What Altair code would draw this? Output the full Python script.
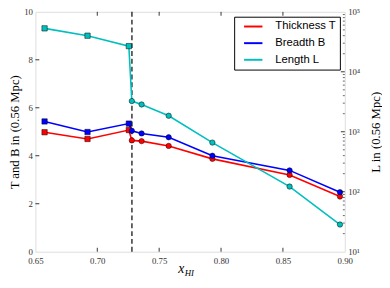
import altair as alt
import pandas as pd

# ---- data ----
x_hi = [0.6574, 0.6921, 0.7255, 0.7279, 0.7358, 0.7577, 0.7930, 0.8554, 0.8961]
thickness = [4.98, 4.70, 5.07, 4.64, 4.61, 4.41, 3.87, 3.20, 2.30]
breadth = [5.43, 4.99, 5.34, 5.04, 4.93, 4.77, 4.00, 3.39, 2.48]
length = [53000, 40000, 26800, 3250, 2850, 1850, 660, 122, 28.4]
phase = ["pre", "pre", "pre", "post", "post", "post", "post", "post", "post"]
series_names = ["Thickness T", "Breadth B", "Length L"]
series_colors = ["#ff0000", "#0000ff", "#00bfbf"]
x_ticks = [0.65, 0.70, 0.75, 0.80, 0.85, 0.90]
y_left_ticks = [0, 2, 4, 6, 8, 10]
y_right_major = [10, 100, 1000, 10000, 100000]
y_right_minor = [m * 10 ** k for k in range(1, 5) for m in range(2, 10)]
x_transition = [0.728]

W, H = 316, 245
SERIF = "Liberation Serif"

tb = pd.DataFrame({
    "x": x_hi * 2,
    "v": thickness + breadth,
    "series": [series_names[0]] * len(x_hi) + [series_names[1]] * len(x_hi),
    "phase": phase * 2,
})
ld = pd.DataFrame({"x": x_hi, "v": length, "series": series_names[2], "phase": phase})

color_scale = alt.Scale(domain=series_names, range=series_colors)
shape_scale = alt.Scale(domain=["pre", "post"], range=["square", "circle"])

x_enc = alt.X(
    "x:Q",
    scale=alt.Scale(domain=[0.65, 0.90], nice=False, zero=False),
    axis=alt.Axis(values=x_ticks, format=".2f", title=None, ticks=False, domain=False,
                  grid=False, labelPadding=5.5, labelFont=SERIF, labelFontSize=9,
                  labelColor="#333333", labelFlush=False, labelOverlap=False),
)
y_left = alt.Y(
    "v:Q",
    scale=alt.Scale(domain=[0, 10], nice=False, zero=False),
    axis=alt.Axis(values=y_left_ticks, format="d", orient="left", ticks=False, domain=False,
                  grid=False, labelPadding=3, labelFont=SERIF, labelFontSize=9,
                  labelColor="#333333", labelFlush=False, labelOverlap=False,
                  title="T and B in (0.56 Mpc)", titleFont=SERIF, titleFontSize=13,
                  titleFontWeight="normal", titleColor="black",
                  titleX=-21, titleY=H / 2, titleAngle=270, titleAlign="center",
                  titleBaseline="middle"),
)
y_right = alt.Y(
    "v:Q",
    scale=alt.Scale(type="log", domain=[10, 100000], nice=False),
    axis=alt.Axis(values=y_right_major, orient="right", ticks=False, domain=False,
                  grid=False, labelPadding=3, labelFont=SERIF, labelFontSize=9,
                  labelColor="#333333", labelFlush=False, labelOverlap=False,
                  labelExpr="'10' + ['⁰','¹','²','³','⁴','⁵'][round(log(datum.value)/LN10)]",
                  title="L in (0.56 Mpc)", titleFont=SERIF, titleFontSize=13,
                  titleFontWeight="normal", titleColor="black",
                  titleX=31, titleY=H / 2, titleAngle=270, titleAlign="center",
                  titleBaseline="middle"),
)

legend = alt.Legend(title=None, orient="top-right", offset=5, symbolType="M-2,0L2,0",
                    symbolSize=88, symbolStrokeWidth=2, labelFont="Liberation Sans",
                    labelFontSize=11.5, labelColor="black", strokeColor="black",
                    fillColor="white", padding=4, rowPadding=5, cornerRadius=0,
                    symbolOffset=9.5, labelOffset=16.5)

one = alt.Data(values=[{"a": 1}])

# ---- left (T, B) layer ----
tb_line = alt.Chart(tb).mark_line(strokeWidth=1.6).encode(
    x=x_enc, y=y_left, color=alt.Color("series:N", scale=color_scale, legend=legend))
tb_pts = alt.Chart(tb).mark_point(filled=True, size=30, stroke="black", strokeWidth=0.5,
                                  opacity=1).encode(
    x=x_enc, y=y_left,
    fill=alt.Fill("series:N", scale=color_scale, legend=None),
    shape=alt.Shape("phase:N", scale=shape_scale, legend=None))
dash = alt.Chart(pd.DataFrame({"x": x_transition})).mark_rule(
    color="black", strokeWidth=1.2, strokeDash=[5, 3]).encode(x=x_enc)
xt = pd.DataFrame({"x": x_ticks[1:-1]})
tick_bottom = alt.Chart(xt).mark_rule(color="black", strokeWidth=0.8).encode(
    x=x_enc, y=alt.value(H), y2=alt.value(H - 4))
tick_top = alt.Chart(xt).mark_rule(color="black", strokeWidth=0.8).encode(
    x=x_enc, y=alt.value(0), y2=alt.value(4))
tick_left = alt.Chart(pd.DataFrame({"v": y_left_ticks[1:-1]})).mark_rule(
    color="black", strokeWidth=0.8).encode(y=y_left, x=alt.value(0), x2=alt.value(4))
xlab = alt.Chart(one).mark_text(text="x", font=SERIF, fontStyle="italic", fontSize=14,
                                align="center", baseline="alphabetic").encode(
    x=alt.value(149), y=alt.value(267))
xlab_sub = alt.Chart(one).mark_text(text="HI", font=SERIF, fontStyle="italic", fontSize=9,
                                    align="left", baseline="alphabetic").encode(
    x=alt.value(152.5), y=alt.value(269.5))

left = alt.layer(tick_bottom, tick_top, tick_left, dash, tb_line, tb_pts, xlab, xlab_sub)

# ---- right (L) layer ----
l_line = alt.Chart(ld).mark_line(strokeWidth=1.6).encode(
    x=x_enc, y=y_right, color=alt.Color("series:N", scale=color_scale, legend=legend))
l_pts = alt.Chart(ld).mark_point(filled=True, size=30, stroke="black", strokeWidth=0.5,
                                 opacity=1).encode(
    x=x_enc, y=y_right,
    fill=alt.Fill("series:N", scale=color_scale, legend=None),
    shape=alt.Shape("phase:N", scale=shape_scale, legend=None))
tick_rmaj = alt.Chart(pd.DataFrame({"v": y_right_major[1:-1]})).mark_rule(
    color="black", strokeWidth=0.8).encode(y=y_right, x=alt.value(W), x2=alt.value(W - 4))
tick_rmin = alt.Chart(pd.DataFrame({"v": y_right_minor})).mark_rule(
    color="black", strokeWidth=0.6).encode(y=y_right, x=alt.value(W), x2=alt.value(W - 2))

right = alt.layer(tick_rmaj, tick_rmin, l_line, l_pts)

chart = alt.layer(left, right).resolve_scale(y="independent").properties(
    width=W, height=H, autosize="none",
    padding={"left": 28, "top": 1, "right": 38, "bottom": 26},
).configure_view(stroke="black", strokeWidth=1).configure(background="white")

chart.save("out.html", embed_options={"renderer": "svg", "actions": False})
